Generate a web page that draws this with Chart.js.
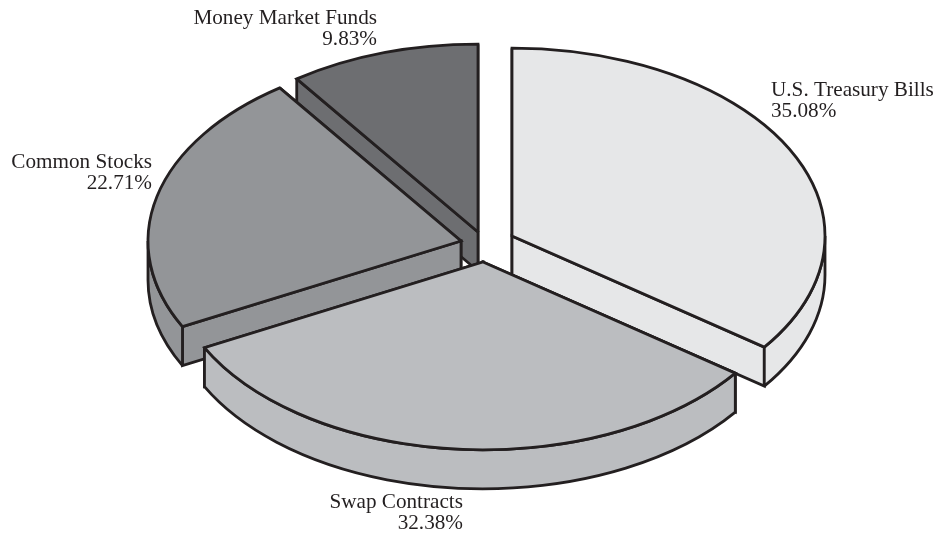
<!DOCTYPE html>
<html>
<head>
<meta charset="utf-8">
<style>
html,body{margin:0;padding:0;background:#fff;}
#wrap{width:938px;height:536px;position:relative;}
</style>
<script src="https://cdn.jsdelivr.net/npm/chart.js@4/dist/chart.umd.min.js"></script>
</head>
<body>
<div id="wrap"><canvas id="c" width="938" height="536"></canvas></div>
<script>
const categories = ['U.S. Treasury Bills', 'Swap Contracts', 'Common Stocks', 'Money Market Funds'];
const shares = [35.08, 32.38, 22.71, 9.83];
const sliceColors = ['#e6e7e8', '#bbbdc0', '#939598', '#6d6e71'];
const inkColor = '#231f20';

/* Look of the tilted, exploded pie (styling, not data) */
const tilt = 0.6;
const depth = 39;
const explode = [[43, -32], [14, -6], [-8, -27], [9, -36]];
const paintOrder = [3, 2, 0, 1];
const labelAnchors = [
  {x: 771, y: 96, align: 'left'},
  {x: 463, y: 508, align: 'right'},
  {x: 152, y: 168, align: 'right'},
  {x: 377, y: 24, align: 'right'}
];
const lineGap = 21;

const tiltedPie = {
  id: 'tiltedPie',
  beforeDatasetDraw(chart, args) {
    const ctx = chart.ctx;
    const arcs = args.meta.data;
    ctx.save();
    ctx.lineWidth = 2.8;
    ctx.lineJoin = 'miter';
    ctx.miterLimit = 2.2;
    ctx.strokeStyle = inkColor;
    const twoPi = Math.PI * 2;
    paintOrder.forEach(i => {
      const a = arcs[i].getProps(['x', 'y', 'startAngle', 'endAngle', 'outerRadius'], true);
      const cx = a.x + explode[i][0];
      const cy = a.y + explode[i][1];
      const rx = a.outerRadius;
      const ry = rx * tilt;
      const px = t => cx + rx * Math.cos(t);
      const py = t => cy + ry * Math.sin(t);
      ctx.fillStyle = sliceColors[i];

      // radial side walls, the one further back first
      [a.startAngle, a.endAngle].sort((p, q) => py(p) - py(q)).forEach(t => {
        ctx.beginPath();
        ctx.moveTo(cx, cy);
        ctx.lineTo(px(t), py(t));
        ctx.lineTo(px(t), py(t) + depth);
        ctx.lineTo(cx, cy + depth);
        ctx.closePath();
        ctx.fill();
        ctx.stroke();
      });

      // outer rim: only the part facing the viewer (sin > 0)
      const k = Math.floor(a.startAngle / twoPi);
      const s = a.startAngle - k * twoPi;
      const e = a.endAngle - k * twoPi;
      [0, twoPi].forEach(base => {
        const from = Math.max(s, base);
        const to = Math.min(e, base + Math.PI);
        if (to <= from) return;
        ctx.beginPath();
        ctx.ellipse(cx, cy, rx, ry, 0, from, to);
        ctx.lineTo(px(to), py(to) + depth);
        ctx.ellipse(cx, cy + depth, rx, ry, 0, to, from, true);
        ctx.closePath();
        ctx.fill();
        ctx.stroke();
      });

      // top face
      ctx.beginPath();
      ctx.moveTo(cx, cy);
      ctx.ellipse(cx, cy, rx, ry, 0, a.startAngle, a.endAngle);
      ctx.closePath();
      ctx.fill();
      ctx.stroke();
    });
    ctx.restore();

    // labels
    ctx.save();
    ctx.fillStyle = inkColor;
    ctx.font = '21.2px "Liberation Serif", serif';
    ctx.textBaseline = 'alphabetic';
    categories.forEach((name, i) => {
      const l = labelAnchors[i];
      ctx.textAlign = l.align;
      ctx.fillText(name, l.x, l.y);
      ctx.fillText(shares[i].toFixed(2) + '%', l.x, l.y + lineGap);
    });
    ctx.restore();
    return false;
  }
};

new Chart(document.getElementById('c'), {
  type: 'pie',
  data: {
    labels: categories,
    datasets: [{ data: shares, backgroundColor: sliceColors, borderWidth: 0, radius: 313 }]
  },
  options: {
    responsive: false,
    animation: false,
    layout: { padding: 0 },
    plugins: { legend: { display: false }, tooltip: { enabled: false }, title: { display: false } }
  },
  plugins: [tiltedPie]
});
</script>
</body>
</html>
